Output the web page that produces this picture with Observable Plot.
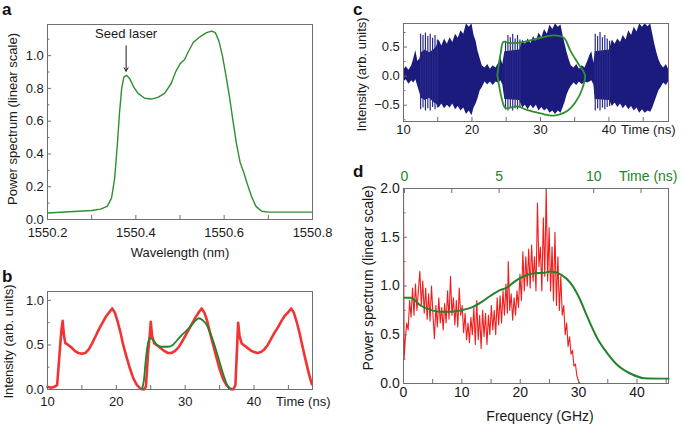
<!DOCTYPE html>
<html><head><meta charset="utf-8">
<script src="https://cdn.jsdelivr.net/npm/d3@7"></script>
<script src="https://cdn.jsdelivr.net/npm/@observablehq/plot@0.6"></script>
<style>
body{margin:0;background:#fff;font-family:"Liberation Sans",Arial,Helvetica,sans-serif}
#wrap{position:relative;width:685px;height:424px;overflow:hidden;background:#fff}
.letter{position:absolute;font-weight:bold;font-size:17px;line-height:19px;color:#111}
</style></head>
<body><div id="wrap">
<div class="letter" style="left:2px;top:0px">a</div>
<div class="letter" style="left:2px;top:267px">b</div>
<div class="letter" style="left:353px;top:0px">c</div>
<div class="letter" style="left:353px;top:162px">d</div>
</div>
<script>
// ---------- Panel a: optical spectrum ----------
const aWave = [1550.2,1550.25,1550.3,1550.32,1550.335,1550.345,1550.352,1550.358,1550.363,1550.368,1550.373,1550.379,1550.386,1550.395,1550.405,1550.42,1550.435,1550.45,1550.465,1550.48,1550.49,1550.5,1550.51,1550.52,1550.53,1550.545,1550.56,1550.572,1550.58,1550.588,1550.596,1550.604,1550.612,1550.62,1550.628,1550.636,1550.644,1550.652,1550.662,1550.672,1550.685,1550.7,1550.75,1550.8];
const aPower = [0.04,0.047,0.055,0.063,0.08,0.13,0.25,0.45,0.65,0.8,0.87,0.88,0.86,0.81,0.77,0.74,0.735,0.745,0.77,0.83,0.9,0.95,0.975,1.03,1.08,1.115,1.14,1.15,1.14,1.09,1.0,0.88,0.75,0.6,0.46,0.35,0.29,0.22,0.14,0.08,0.05,0.045,0.045,0.045];
const aTickLabels = [1550.2,1550.4,1550.6,1550.8];
const aTickMinor = [1550.3,1550.5,1550.7];
const aYLabels = [0,0.2,0.4,0.6,0.8,1.0];
const aYMinor = [0.1,0.3,0.5,0.7,0.9,1.1];
const seedWave = 1550.378, seedArrowFrom = 1.06, seedArrowTo = 0.905, seedTextY = 1.11;

// ---------- Panel b: intensity vs time ----------
const bTime = [10.0,10.5,11.0,11.4,11.7,12.0,12.2,12.4,12.6,13.0,13.5,14.0,14.5,15.0,15.5,16.0,16.5,17.0,17.5,18.0,18.5,19.0,19.4,19.8,20.2,20.6,21.0,21.5,22.0,22.5,23.0,23.5,24.0,24.3,24.6,24.9,25.0,25.2,25.5,26.0,26.5,27.0,27.5,28.0,28.5,29.0,29.5,30.0,30.5,31.0,31.5,32.0,32.4,32.8,33.2,33.6,34.0,34.5,35.0,35.5,36.0,36.5,37.0,37.3,37.5,37.7,37.9,38.2,38.5,39,39.5,40,40.5,41,41.5,42,42.5,43,43.5,44,44.5,45,45.4,45.8,46.2,46.6,47,47.5,48,48.4];
const bRed = [0.03,0.02,0.03,0.05,0.35,0.65,0.77,0.6,0.52,0.5,0.47,0.43,0.41,0.4,0.41,0.45,0.52,0.6,0.68,0.75,0.82,0.87,0.91,0.86,0.76,0.64,0.5,0.36,0.23,0.12,0.05,0.01,0.0,0.03,0.4,0.65,0.76,0.6,0.52,0.49,0.46,0.43,0.41,0.41,0.43,0.47,0.53,0.6,0.67,0.74,0.81,0.87,0.91,0.86,0.77,0.64,0.52,0.37,0.23,0.12,0.05,0.01,0.0,0.05,0.4,0.75,0.6,0.52,0.5,0.47,0.44,0.42,0.41,0.42,0.45,0.5,0.57,0.64,0.7,0.77,0.83,0.87,0.91,0.86,0.76,0.64,0.5,0.33,0.17,0.06];
const bFitTime = [23.7,24.0,24.3,24.6,24.9,25.3,25.8,26.5,27.5,28.2,28.8,29.5,30.2,31,31.6,32,32.5,33,33.5,34,34.5,35,35.5,36,36.4,36.7];
const bFit = [0,0.1,0.35,0.52,0.58,0.56,0.51,0.48,0.48,0.5,0.55,0.61,0.66,0.73,0.78,0.8,0.78,0.74,0.66,0.56,0.44,0.31,0.18,0.07,0.01,0];
const bXLabels = [10,20,30,40], bXMinor = [15,25,35,45];
const bYLabels = [0,0.5,1.0], bYMinor = [0.25,0.75];

// ---------- Panel c: field oscillation (envelope of the fast trace) ----------
const cTime = [10.0,10.4,10.8,11.2,11.5,11.8,12.1,12.4,12.6,13.2,
13.8,14.4,14.8,15.2,15.6,16.0,16.4,16.8,17.2,17.6,
18.0,18.4,18.8,19.2,19.6,20.0,20.3,20.6,20.9,21.2,
21.5,21.9,22.3,22.7,23.1,23.5,23.9,24.2,24.5,24.8,
27.0,27.4,27.8,28.2,28.6,29.0,29.4,29.8,30.2,30.6,
31.0,31.4,31.8,32.2,32.6,33.0,33.3,33.6,33.9,34.2,
34.5,34.9,35.3,35.7,36.1,36.5,36.9,37.2,37.5,37.8,
38.0,40.1,40.5,40.9,41.3,41.7,42.1,42.5,42.9,43.3,
43.7,44.1,44.5,44.9,45.3,45.7,46.1,46.4,46.7,47.0,
47.3,47.6,48.0,48.4,48.7];
const cUpper = [0.10,0.16,0.10,0.18,0.30,0.44,0.25,0.30,0.40,0.45,
0.40,0.45,0.50,0.62,0.52,0.64,0.55,0.66,0.58,0.72,
0.65,0.78,0.72,0.90,0.84,0.90,0.70,0.60,0.42,0.30,
0.18,0.14,0.20,0.12,0.18,0.14,0.22,0.32,0.20,0.42,
0.45,0.62,0.55,0.64,0.56,0.68,0.60,0.74,0.66,0.80,
0.72,0.88,0.80,0.90,0.84,0.88,0.70,0.55,0.40,0.28,
0.18,0.14,0.20,0.12,0.18,0.14,0.25,0.35,0.42,0.22,
0.42,0.45,0.62,0.55,0.64,0.58,0.70,0.62,0.78,0.70,
0.84,0.76,0.90,0.84,0.90,0.85,0.90,0.72,0.55,0.40,
0.28,0.20,0.14,0.20,0.12];
const cLower = [-0.10,-0.06,-0.14,-0.08,-0.12,-0.06,-0.18,-0.30,-0.38,-0.42,
-0.38,-0.45,-0.48,-0.55,-0.48,-0.56,-0.50,-0.55,-0.48,-0.58,
-0.52,-0.60,-0.55,-0.66,-0.60,-0.68,-0.55,-0.48,-0.38,-0.25,
-0.20,-0.10,-0.15,-0.10,-0.16,-0.10,-0.12,-0.08,-0.15,-0.40,
-0.42,-0.55,-0.50,-0.58,-0.50,-0.56,-0.50,-0.60,-0.54,-0.60,
-0.56,-0.64,-0.60,-0.66,-0.60,-0.64,-0.55,-0.45,-0.32,-0.24,
-0.18,-0.12,-0.16,-0.10,-0.15,-0.10,-0.12,-0.10,-0.08,-0.15,
-0.40,-0.42,-0.52,-0.46,-0.54,-0.48,-0.56,-0.50,-0.58,-0.52,
-0.60,-0.55,-0.64,-0.58,-0.64,-0.60,-0.62,-0.55,-0.45,-0.35,
-0.25,-0.20,-0.12,-0.16,-0.10];
const combTime = [12.5,12.85,13.2,13.55,13.9,14.25,14.6,14.95,24.9,25.25,25.6,25.95,26.3,26.65,27.0,38.0,38.35,38.7,39.05,39.4,39.75,40.1];
const combTop = [0.72,0.7,0.74,0.68,0.72,0.65,0.7,0.62,0.6,0.7,0.66,0.72,0.64,0.7,0.62,0.72,0.68,0.75,0.66,0.7,0.64,0.6];
const combBottom = [-0.58,-0.55,-0.6,-0.56,-0.6,-0.54,-0.58,-0.55,-0.58,-0.6,-0.55,-0.6,-0.56,-0.58,-0.55,-0.6,-0.56,-0.6,-0.55,-0.58,-0.54,-0.52];
const cLoopTime = [23.7,24.2,24.6,25.4,26.5,28.1,30,31.9,33.4,34.4,35.6,36.5,36.1,35.1,33.9,31.9,30,28,26.6,24.9,24.4,23.7];
const cLoop = [0.02,0.4,0.59,0.57,0.57,0.6,0.66,0.7,0.66,0.43,0.2,0.02,-0.22,-0.45,-0.6,-0.68,-0.64,-0.58,-0.52,-0.55,-0.41,0.02];
const cXLabels = [10,20,30,40], cXMinor = [15,25,35,45];
const cYLabels = [-0.5,0,0.5], cYMinor = [-0.75,-0.25,0.25,0.75];

// ---------- Panel d: RF spectrum + pulse ----------
const dFreq = [0.00,0.10,0.30,0.55,0.80,1.05,1.30,1.55,1.80,2.05,
2.30,2.55,2.80,3.05,3.30,3.55,3.80,4.05,4.30,4.55,
4.80,5.05,5.30,5.55,5.80,6.05,6.30,6.55,6.80,7.05,
7.30,7.55,7.80,8.05,8.30,8.55,8.80,9.05,9.30,9.55,
9.80,10.05,10.30,10.55,10.80,11.05,11.30,11.55,11.80,12.05,
12.30,12.55,12.80,13.05,13.30,13.55,13.80,14.05,14.30,14.55,
14.80,15.05,15.30,15.55,15.80,16.05,16.30,16.55,16.80,17.05,
17.30,17.55,17.80,17.95,18.20,18.45,18.70,18.95,19.20,19.45,
19.70,19.95,20.20,20.45,20.70,20.95,21.20,21.45,21.70,21.95,
22.20,22.45,22.70,22.95,23.20,23.45,23.70,23.95,24.20,24.45,
24.70,24.95,25.20,25.45,25.70,25.95,26.20,26.45,26.70,26.95,
27.20,27.45,27.70,27.95,28.20,28.45,28.70,28.95,29.20,29.45,
29.70,30.00,30.30,45.40];
const dRed = [2.00,0.25,0.45,0.62,0.55,0.85,0.68,0.98,0.70,1.02,
0.75,0.95,1.15,0.80,1.05,0.72,0.98,0.66,0.92,0.64,
1.00,0.70,0.46,0.80,0.58,0.88,0.62,0.78,0.55,0.82,
0.62,0.95,0.66,1.10,0.70,0.88,0.60,0.85,0.58,0.98,
0.70,0.80,0.52,0.72,0.45,0.62,0.42,0.68,0.50,0.78,
0.40,0.85,0.45,0.70,0.36,0.75,0.48,0.72,0.40,0.70,
0.50,0.80,0.55,0.75,0.50,0.88,0.60,0.90,0.62,0.95,
0.70,1.02,0.72,1.25,0.75,0.92,0.65,0.88,0.70,0.95,
0.78,1.12,0.85,1.35,0.95,1.30,1.00,1.38,0.98,1.42,
1.05,1.30,0.95,1.85,1.20,1.40,0.95,1.70,1.10,2.00,
1.05,1.60,0.95,1.40,0.85,1.55,0.80,1.30,0.75,1.10,
0.70,0.80,0.50,0.62,0.38,0.48,0.30,0.34,0.18,0.20,
0.08,0.02,0.00,0.00];
const dPulseTime = [0,0.32,0.85,1.38,1.9,2.43,2.96,3.49,4.02,4.55,5.08,5.43,5.78,6.31,6.84,7.37,7.72,8.25,8.78,9.22,9.67,10.2,10.72,11.25,11.96,12.66,13.95];
const dPulse = [0.88,0.88,0.8,0.755,0.735,0.735,0.75,0.775,0.83,0.9,0.96,0.985,1.04,1.1,1.13,1.135,1.15,1.12,1.03,0.885,0.68,0.46,0.31,0.19,0.1,0.055,0.05];
const dXLabels = [0,10,20,30,40], dXMinor = [5,15,25,35,45];
const dYLabels = [0,0.5,1.0,1.5,2.0], dYMinor = [0.25,0.75,1.25,1.75];
const dTopLabels = [0,5,10], dTopMinor = [2.5,7.5,12.5];

// ---------- styling ----------
const FONT = "'Liberation Sans', Arial, Helvetica, sans-serif";
const FRAME = "#6f6f6f", INK = "#1a1a1a";
const GREEN = "#2f8f2f", GREEN_D = "#24832a", RED = "#f21c1c", NAVY = "#1b1b7e";
const fmt1 = d => (d < 0 ? "\u2212" : "") + Math.abs(d).toFixed(1);
const wrap = document.getElementById("wrap");
function place(svg, left, top) {
  svg.style.position = "absolute"; svg.style.left = left + "px"; svg.style.top = top + "px";
  wrap.appendChild(svg);
}
const zip = (xs, ys) => xs.slice(0, Math.min(xs.length, ys.length)).map((x, i) => ({x, y: ys[i]}));
function baseStyle(size) {
  return {fontFamily: FONT, fontSize: size + "px", color: INK, background: "none", overflow: "visible"};
}
function ticksX(labels, minor, pad, fmt) {
  return [
    Plot.axisX({ticks: labels, tickFormat: fmt, tickSize: -4, tickPadding: pad, stroke: FRAME, fill: INK, label: null}),
    Plot.axisX({ticks: minor, tickSize: -4, fill: "none", stroke: FRAME, label: null})
  ];
}
function ticksY(labels, minor, pad, fmt) {
  return [
    Plot.axisY({ticks: labels, tickFormat: fmt, tickSize: -4, tickPadding: pad, stroke: FRAME, fill: INK, label: null}),
    Plot.axisY({ticks: minor, tickSize: -2.5, fill: "none", stroke: FRAME, label: null})
  ];
}
function yTitle(text, dx, dy) {
  return Plot.text([text], {frameAnchor: "left", rotate: -90, textAnchor: "middle", lineAnchor: "middle", dx, dy, fill: INK});
}

// Panel a
place(Plot.plot({
  width: 340, height: 270, marginLeft: 47, marginRight: 28, marginTop: 24, marginBottom: 51,
  style: baseStyle(13),
  x: {domain: [1550.2, 1550.8], label: null},
  y: {domain: [0, 1.19], label: null},
  marks: [
    Plot.line(zip(aWave, aPower), {x: "x", y: "y", stroke: GREEN, strokeWidth: 1.4}),
    Plot.frame({stroke: FRAME}),
    ...ticksX(aTickLabels, aTickMinor, 12.5, d => d.toFixed(1)),
    ...ticksY(aYLabels, aYMinor, 7.7, fmt1),
    Plot.arrow([0], {x1: seedWave, x2: seedWave, y1: seedArrowFrom, y2: seedArrowTo, stroke: INK, strokeWidth: 1, headLength: 6}),
    Plot.text(["Seed laser"], {x: seedWave, y: seedTextY, lineAnchor: "bottom", fill: INK}),
    Plot.text(["Wavelength (nm)"], {frameAnchor: "bottom", textAnchor: "middle", lineAnchor: "top", dy: 28, fill: INK}),
    yTitle("Power spectrum (linear scale)", -35, -3)
  ]
}), 0, 0);

// Panel b
place(Plot.plot({
  width: 340, height: 154, marginLeft: 47, marginRight: 28, marginTop: 21, marginBottom: 35,
  style: baseStyle(13),
  x: {domain: [10, 48.5], label: null},
  y: {domain: [0, 1.1], label: null},
  marks: [
    Plot.line(zip(bTime, bRed), {x: "x", y: "y", stroke: RED, strokeWidth: 2.6, strokeOpacity: 0.9, strokeLinejoin: "round"}),
    Plot.line(zip(bFitTime, bFit), {x: "x", y: "y", stroke: GREEN_D, strokeWidth: 1.8, curve: "monotone-x"}),
    Plot.frame({stroke: FRAME}),
    ...ticksX(bXLabels, bXMinor, 11.7, d => String(d)),
    ...ticksY(bYLabels, bYMinor, 7.4, fmt1),
    Plot.text(["Time (ns)"], {frameAnchor: "bottom-right", textAnchor: "end", lineAnchor: "top", dx: 18, dy: 7.7, fill: INK}),
    yTitle("Intensity (arb. units)", -39, 1)
  ]
}), 0, 270);

// Panel c
place(Plot.plot({
  width: 345, height: 150, marginLeft: 63, marginRight: 17, marginTop: 23, marginBottom: 29,
  style: baseStyle(13),
  x: {domain: [10, 48.7], label: null},
  y: {domain: [-0.78, 0.905], label: null},
  marks: [
    Plot.areaY(zip(cTime, cUpper).map((d, i) => ({x: d.x, hi: d.y, lo: cLower[i]})), {x: "x", y1: "lo", y2: "hi", fill: NAVY}),
    Plot.ruleX(combTime, {x: combTime, y1: combBottom, y2: combTop, stroke: "#2a2a8a", strokeWidth: 1.2}),
    Plot.line(zip(cLoopTime, cLoop), {x: "x", y: "y", stroke: GREEN, strokeWidth: 1.8, curve: "catmull-rom"}),
    Plot.frame({stroke: FRAME}),
    ...ticksX(cXLabels, cXMinor, 7, d => String(d)),
    ...ticksY(cYLabels, cYMinor, 7.7, fmt1),
    Plot.text(["Time (ns)"], {frameAnchor: "bottom-right", textAnchor: "end", lineAnchor: "top", dx: 7, dy: 3, fill: INK}),
    yTitle("Intensity (arb. units)", -42, 2)
  ]
}), 340, 0);

// Panel d (frequency scale)
place(Plot.plot({
  width: 345, height: 274, marginLeft: 63, marginRight: 17, marginTop: 38, marginBottom: 41,
  style: baseStyle(14),
  x: {domain: [0, 45.4], label: null},
  y: {domain: [0, 2.0], label: null},
  marks: [
    Plot.line(zip(dFreq, dRed), {x: "x", y: "y", stroke: RED, strokeWidth: 1.1}),
    Plot.frame({stroke: FRAME}),
    ...ticksX(dXLabels, dXMinor, 7.7, d => String(d)),
    ...ticksY(dYLabels, dYMinor, 7.7, fmt1),
    Plot.text(["Frequency (GHz)"], {frameAnchor: "bottom", textAnchor: "middle", lineAnchor: "top", dx: 4, dy: 28, fill: INK}),
    yTitle("Power spectrum (linear scale)", -35, -8)
  ]
}), 340, 150);

// Panel d overlay (time scale, green)
place(Plot.plot({
  width: 345, height: 274, marginLeft: 63, marginRight: 17, marginTop: 38, marginBottom: 41,
  style: Object.assign(baseStyle(14), {color: GREEN_D}),
  x: {domain: [-0.05, 13.95], label: null},
  y: {domain: [0, 2.0], label: null, axis: null},
  marks: [
    Plot.line(zip(dPulseTime, dPulse), {x: "x", y: "y", stroke: GREEN_D, strokeWidth: 2, curve: "monotone-x"}),
    Plot.axisX({anchor: "top", ticks: dTopLabels, tickFormat: d => String(d), tickSize: -4, tickPadding: 12, stroke: FRAME, fill: GREEN_D, label: null}),
    Plot.axisX({anchor: "top", ticks: dTopMinor, tickSize: -4, fill: "none", stroke: FRAME, label: null}),
    Plot.text(["Time (ns)"], {frameAnchor: "top-right", textAnchor: "end", lineAnchor: "bottom", dx: 9, dy: -8, fill: GREEN_D})
  ]
}), 340, 150);
</script>
</body></html>
